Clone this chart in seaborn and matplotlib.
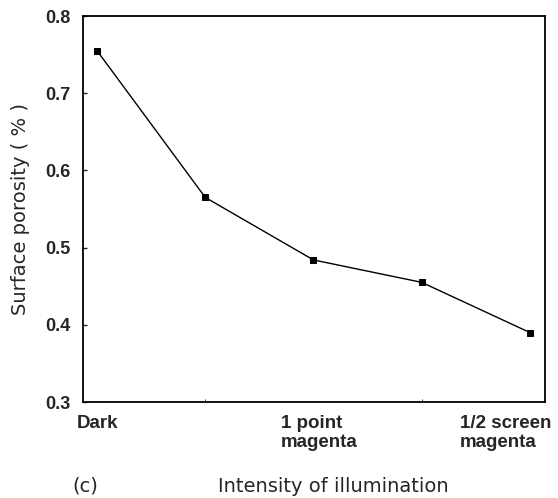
import matplotlib
matplotlib.use("Agg")
import matplotlib.pyplot as plt
import matplotlib.transforms as mtransforms
import seaborn as sns
import pandas as pd

# Data
levels = [0, 1, 2, 3, 4]
porosity = [0.755, 0.565, 0.484, 0.455, 0.390]
tick_positions = [0, 2, 4]
tick_labels = ["Dark", "1 point\nmagenta", "1/2 screen\nmagenta"]
y_ticks = [0.3, 0.4, 0.5, 0.6, 0.7, 0.8]

sns.set_style("ticks")
plt.rcParams['font.family'] = ['Liberation Sans', 'DejaVu Sans']

df = pd.DataFrame({"level": levels, "porosity": porosity})

fig = plt.figure(figsize=(5.58, 4.98), dpi=100)
ax = fig.add_axes([83/558, 1 - 402/498, (545-83)/558, (402-16)/498])

sns.lineplot(data=df, x="level", y="porosity", ax=ax, color="black",
             linewidth=1.0, marker="s", markersize=5, markeredgecolor="black",
             markerfacecolor="black")

ax.set_xlim(-0.13, 4.14)
ax.set_ylim(0.3, 0.8)
ax.set_yticks(y_ticks)
ax.set_yticklabels([f"{v:.1f}" for v in y_ticks], fontsize=13, fontweight="bold")
ax.set_xticks(tick_positions)
ax.set_xticklabels(tick_labels, fontsize=13.5, fontweight="bold",
                   linespacing=1.2, multialignment="left")
ax.set_xticks(levels, minor=True)
ax.tick_params(axis="y", direction="in", length=3, width=1, pad=9)
ax.tick_params(axis="x", which="major", length=0, pad=9)
ax.tick_params(axis="x", which="minor", direction="in", length=2)

# shift x tick labels as in the reference
offsets = [0, 6, -24]
for lbl, dx in zip(ax.get_xticklabels(), offsets):
    lbl.set_transform(lbl.get_transform() + mtransforms.ScaledTranslation(dx/100, 0, fig.dpi_scale_trans))

for sp in ax.spines.values():
    sp.set_linewidth(1.3)
    sp.set_color("black")

ax.set_xlabel("")
ax.set_ylabel("Surface porosity ( % )", fontsize=14, family="DejaVu Sans")
ax.yaxis.set_label_coords(-0.115, 0.5)
fig.text(333/558, 1 - 486/498, "Intensity of illumination", fontsize=14,
         family="DejaVu Sans", ha="center", va="center")
fig.text(85/558, 1 - 486/498, "(c)", fontsize=14, family="DejaVu Sans",
         ha="center", va="center")

fig.savefig("out.png", dpi=100)
